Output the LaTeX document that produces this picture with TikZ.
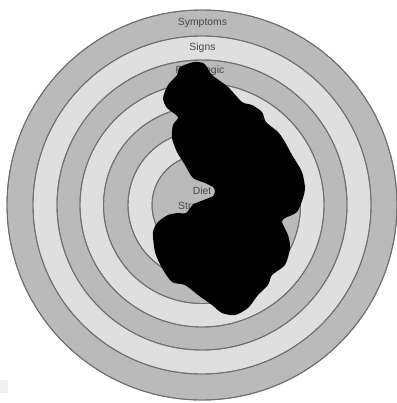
\documentclass[tikz,border=0pt]{standalone}
\usepackage{fontspec}
\setmainfont{Liberation Sans}
\definecolor{ringdark}{RGB}{186,186,186}
\definecolor{ringlight}{RGB}{223,223,223}
\definecolor{ringline}{RGB}{110,110,110}
\definecolor{labelgray}{RGB}{70,70,70}
\begin{document}
\begin{tikzpicture}[x=1pt,y=-1pt,
  ring/.style={draw=ringline,line width=0.9pt},
  ringlabel/.style={text=labelgray,font=\fontsize{10.4}{12}\selectfont,inner sep=0pt}]
\useasboundingbox (0,0) rectangle (396,403);
\fill[white] (0,0) rectangle (396,403);
\fill[gray!12] (0,380) rectangle (8,393);
\coordinate (c) at (202,205);
\fill[ring,fill=ringdark]  (c) circle[radius=195];
\fill[ring,fill=ringlight] (c) circle[radius=169];
\fill[ring,fill=ringdark]  (c) circle[radius=145];
\fill[ring,fill=ringlight] (c) circle[radius=122];
\fill[ring,fill=ringdark]  (c) circle[radius=98.5];
\fill[ring,fill=ringlight] (c) circle[radius=74];
\fill[ring,fill=ringdark]  (c) circle[radius=50];
\draw[ring] (c) circle[radius=195];
\draw[ring] (c) circle[radius=169];
\draw[ring] (c) circle[radius=145];
\draw[ring] (c) circle[radius=122];
\draw[ring] (c) circle[radius=98.5];
\draw[ring] (c) circle[radius=74];
\draw[ring] (c) circle[radius=50];
\node[ringlabel] (symptoms) at (202.5,23) {Symptoms};
\node[ringlabel] (signs) at (202.5,47.5) {Signs};
\node[ringlabel] (patho) at (200,71) {Pathologic};
\node[ringlabel] (diet) at (202,191) {Diet};
\node[ringlabel,anchor=west] (stress) at (178,206) {Stress};
\fill[black] plot[smooth cycle,tension=0.45] coordinates {
(180,67) (194,62) (203,63) (207,67) (212,75) (228,87) (242,102) (252,105) (262,112)
(266,122) (278,132) (285,142) (292,155) (302,172) (305,188) (303,198) (297,212)
(285,218) (282,222) (288,235) (290,248) (285,265) (272,275) (268,285) (258,295)
(248,308) (235,315) (222,313) (212,305) (198,295) (185,285) (172,282) (162,268)
(155,252) (153,232) (158,222) (168,215) (178,213) (186,213) (194,204) (213,196)
(214,188) (205,183) (193,178) (185,165) (177,152) (172,138) (173,125) (178,117)
(167,108) (163,98) (168,85) (177,75)};
\end{tikzpicture}
\end{document}
